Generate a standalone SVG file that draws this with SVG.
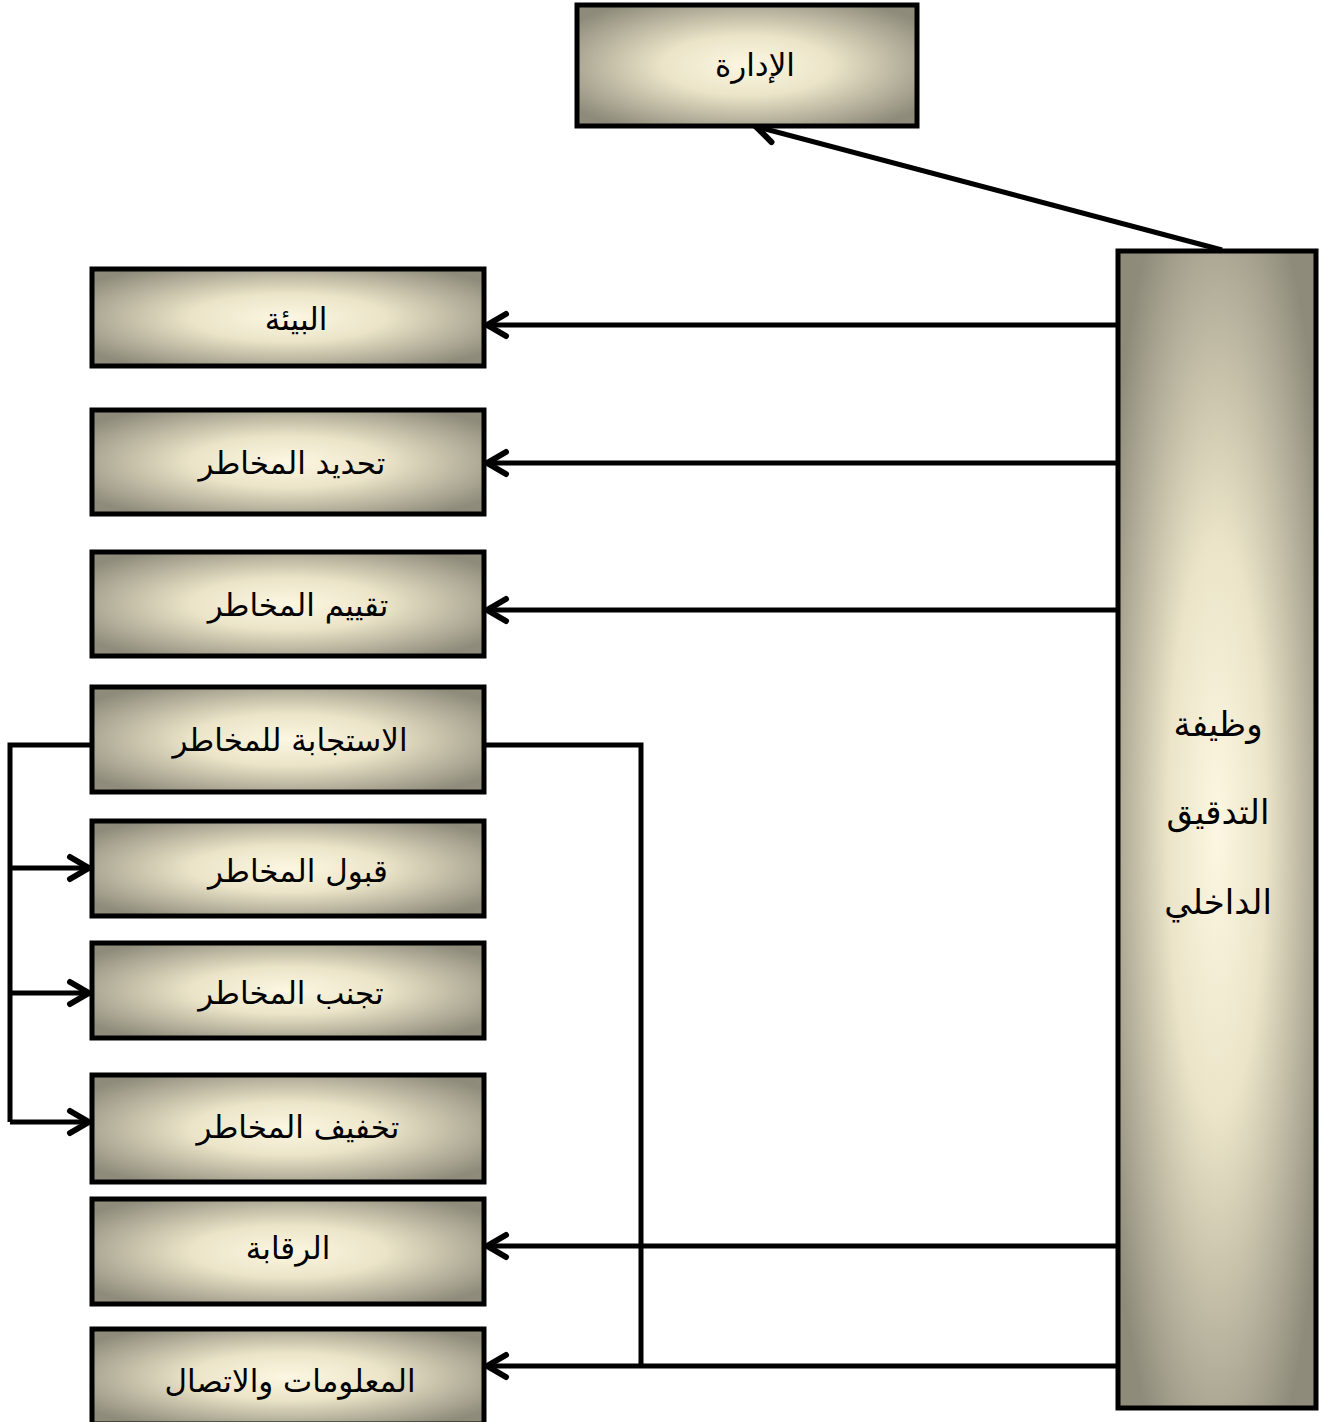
<svg xmlns="http://www.w3.org/2000/svg" width="1319" height="1422" viewBox="0 0 1319 1422">
<defs>
<radialGradient id="g" cx="0.5" cy="0.5" r="0.62">
<stop offset="0" stop-color="#fcf7e2"/>
<stop offset="0.4" stop-color="#ebe4c8"/>
<stop offset="1" stop-color="#8e8b7b"/>
</radialGradient>
<marker id="ar" viewBox="0 0 30 30" refX="28" refY="15" markerWidth="30" markerHeight="30" markerUnits="userSpaceOnUse" orient="auto">
<path d="M 7 4 L 26 15 L 7 26" fill="none" stroke="#000" stroke-width="6" stroke-linecap="round" stroke-linejoin="round"/>
</marker>
</defs>
<style>
.box{fill:url(#g);stroke:#000;stroke-width:5}
.t{font-family:"DejaVu Sans","Noto Sans",sans-serif;font-size:31px;fill:#000;text-anchor:middle}
.v{font-size:34px}
.c{fill:none;stroke:#000;stroke-width:5}
</style>
<rect width="1319" height="1422" fill="#fff"/>
<g id="connectors">
<line class="c" x1="1222" y1="250" x2="754" y2="126" marker-end="url(#ar)"/>
<line class="c" x1="1118" y1="325" x2="485" y2="325" marker-end="url(#ar)"/>
<line class="c" x1="1118" y1="463" x2="485" y2="463" marker-end="url(#ar)"/>
<line class="c" x1="1118" y1="610" x2="485" y2="610" marker-end="url(#ar)"/>
<line class="c" x1="1118" y1="1246" x2="485" y2="1246" marker-end="url(#ar)"/>
<line class="c" x1="1118" y1="1366" x2="485" y2="1366" marker-end="url(#ar)"/>
<polyline class="c" points="484,745 641,745 641,1366"/>
<polyline class="c" points="92,745 10,745 10,1122"/>
<line class="c" x1="10" y1="868" x2="91" y2="868" marker-end="url(#ar)"/>
<line class="c" x1="10" y1="993" x2="91" y2="993" marker-end="url(#ar)"/>
<line class="c" x1="10" y1="1122" x2="91" y2="1122" marker-end="url(#ar)"/>
</g>
<g id="n-idara"><rect class="box" x="577" y="5" width="340" height="121"/><text class="t" x="755" y="76">الإدارة</text></g>
<g id="n-audit"><rect class="box" x="1118" y="251" width="198" height="1157"/>
<text class="t v" x="1218" y="736">وظيفة</text><text class="t v" x="1218" y="824">التدقيق</text><text class="t v" x="1218" y="914">الداخلي</text></g>
<g id="n-bia"><rect class="box" x="92" y="269" width="392" height="97"/><text class="t" x="296" y="330">البيئة</text></g>
<g id="n-tahdid"><rect class="box" x="92" y="410" width="392" height="104"/><text class="t" x="292" y="474">تحديد المخاطر</text></g>
<g id="n-taqyim"><rect class="box" x="92" y="552" width="392" height="104"/><text class="t" x="298" y="616">تقييم المخاطر</text></g>
<g id="n-istijaba"><rect class="box" x="92" y="687" width="392" height="105"/><text class="t" x="290" y="751">الاستجابة للمخاطر</text></g>
<g id="n-qabul"><rect class="box" x="92" y="821" width="392" height="95"/><text class="t" x="298" y="882">قبول المخاطر</text></g>
<g id="n-tajannub"><rect class="box" x="92" y="943" width="392" height="95"/><text class="t" x="291" y="1004">تجنب المخاطر</text></g>
<g id="n-takhfif"><rect class="box" x="92" y="1075" width="392" height="107"/><text class="t" x="298" y="1138">تخفيف المخاطر</text></g>
<g id="n-raqaba"><rect class="box" x="92" y="1199" width="392" height="105"/><text class="t" x="288" y="1259">الرقابة</text></g>
<g id="n-maalumat"><rect class="box" x="92" y="1329" width="392" height="95"/><text class="t" x="290" y="1392">المعلومات والاتصال</text></g>
</svg>
